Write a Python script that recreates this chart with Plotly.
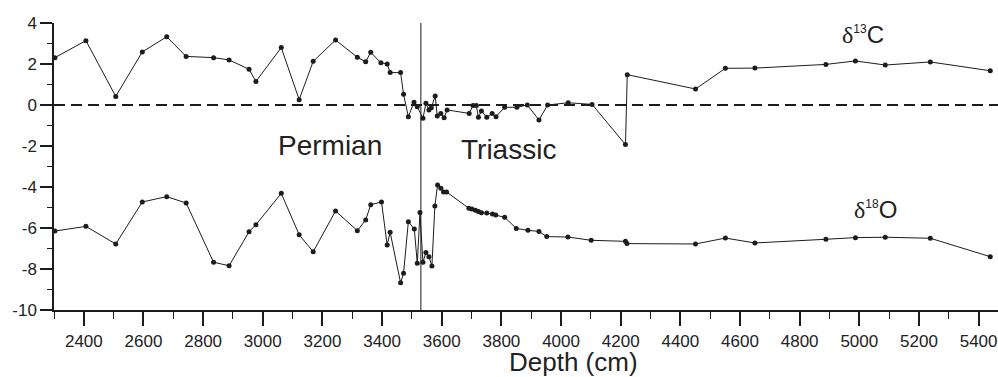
import plotly.graph_objects as go

# Depth (cm) and isotope values
depth_c = [2303, 2407, 2507, 2596, 2678, 2743, 2835, 2887, 2954, 2977, 3062, 3122, 3169, 3244,
           3317, 3345, 3362, 3396, 3417, 3427, 3462, 3472, 3488, 3507, 3518, 3537, 3547, 3557,
           3565, 3578, 3585, 3597, 3608, 3618, 3692, 3705, 3716, 3723, 3733, 3751, 3769, 3782,
           3811, 3852, 3887, 3926, 3955, 4024, 4104, 4216, 4222, 4451, 4551, 4650, 4888, 4987,
           5087, 5238, 5439]
d13c = [2.31, 3.14, 0.42, 2.59, 3.33, 2.37, 2.31, 2.2, 1.74, 1.15, 2.8, 0.26, 2.13, 3.17,
        2.33, 2.11, 2.57, 2.06, 2.0, 1.58, 1.58, 0.52, -0.57, 0.13, -0.08, -0.65, 0.08, -0.24,
        -0.13, 0.44, -0.54, -0.41, -0.62, -0.24, -0.41, -0.03, -0.03, -0.6, -0.29, -0.6, -0.41, -0.57,
        -0.11, -0.11, 0.0, -0.73, 0.0, 0.11, 0.03, -1.93, 1.48, 0.78, 1.79, 1.8, 1.98, 2.15,
        1.95, 2.1, 1.67]

depth_o = [2303, 2407, 2507, 2596, 2678, 2743, 2835, 2887, 2954, 2977, 3062, 3122, 3169, 3244,
           3317, 3345, 3362, 3398, 3417, 3427, 3462, 3472, 3488, 3508, 3518, 3527, 3537, 3547,
           3557, 3567, 3577, 3586, 3597, 3606, 3616, 3691, 3701, 3713, 3723, 3733, 3751, 3770,
           3781, 3811, 3850, 3889, 3926, 3952, 4023, 4101, 4216, 4221, 4451, 4551, 4650, 4888,
           4987, 5087, 5238, 5439]
d18o = [-6.15, -5.92, -6.78, -4.73, -4.47, -4.78, -7.67, -7.84, -6.18, -5.84, -4.31, -6.33, -7.16, -5.17,
        -6.13, -5.61, -4.86, -4.73, -6.83, -6.21, -8.67, -8.21, -5.69, -6.05, -7.72, -5.24, -7.67, -7.19,
        -7.4, -7.85, -4.93, -3.9, -4.06, -4.24, -4.24, -5.04, -5.07, -5.14, -5.2, -5.25, -5.27, -5.32,
        -5.37, -5.48, -6.02, -6.11, -6.17, -6.42, -6.44, -6.6, -6.65, -6.76, -6.78, -6.49, -6.73, -6.55,
        -6.47, -6.45, -6.5, -7.4]

boundary_depth = 3530
x_range = [2300, 5465]
y_range = [-10, 4]
x_ticks = list(range(2400, 5401, 200))
y_ticks = list(range(-10, 5, 2))

ink = "#1c1c1c"
font_family = "Liberation Sans, Arial, sans-serif"

fig = go.Figure()
for xs, ys in ((depth_c, d13c), (depth_o, d18o)):
    fig.add_trace(go.Scatter(
        x=xs, y=ys, mode="lines+markers",
        line=dict(color=ink, width=1),
        marker=dict(color=ink, size=5),
        showlegend=False, cliponaxis=False,
    ))

# zero dashed line
fig.add_shape(type="line", xref="paper", yref="y", x0=0, x1=1, y0=0, y1=0,
              line=dict(color=ink, width=2, dash="11px,6px"), layer="below")
# Permian/Triassic boundary
fig.add_shape(type="line", xref="x", yref="y", x0=boundary_depth, x1=boundary_depth,
              y0=y_range[0], y1=y_range[1], line=dict(color=ink, width=1))

fig.add_annotation(x=3227, y=-1.97, xref="x", yref="y", text="Permian", showarrow=False,
                   font=dict(size=28, color="#222", family=font_family))
fig.add_annotation(x=3825, y=-2.19, xref="x", yref="y", text="Triassic", showarrow=False,
                   font=dict(size=28, color="#222", family=font_family))
fig.add_annotation(x=5012, y=3.45, xref="x", yref="y",
                   text='<span style="font-family:Liberation Serif">δ</span><sup><span style="font-size:12px">13</span></sup>C',
                   showarrow=False, font=dict(size=24, color="#222", family=font_family))
fig.add_annotation(x=5055, y=-5.1, xref="x", yref="y",
                   text='<span style="font-family:Liberation Serif">δ</span><sup><span style="font-size:12px">18</span></sup>O',
                   showarrow=False, font=dict(size=24, color="#222", family=font_family))
fig.add_annotation(x=0.55, y=-0.18, xref="paper", yref="paper", text="Depth (cm)",
                   showarrow=False, yanchor="middle",
                   font=dict(size=26, color="#222", family=font_family))

fig.update_xaxes(
    range=x_range, tickmode="array", tickvals=x_ticks, ticktext=[str(v) for v in x_ticks],
    ticks="outside", ticklen=14, tickwidth=2, tickcolor=ink, ticklabelstandoff=1,
    showline=True, linecolor=ink, linewidth=1.5, showgrid=False, zeroline=False,
    tickfont=dict(size=17, color="#222", family=font_family),
    minor=dict(tickmode="array", tickvals=list(range(2300, 5465, 100)), ticks="outside",
               ticklen=7, tickwidth=1, tickcolor=ink, showgrid=False),
)
fig.update_yaxes(
    range=y_range, tickmode="array", tickvals=y_ticks, ticktext=[str(v) for v in y_ticks],
    ticks="outside", ticklen=12, tickwidth=2, tickcolor=ink,
    showline=True, linecolor=ink, linewidth=1.5, showgrid=False, zeroline=False,
    tickfont=dict(size=17, color="#222", family=font_family),
    minor=dict(tickmode="array", tickvals=list(range(-9, 4, 2)), ticks="outside",
               ticklen=5, tickwidth=1, tickcolor=ink, showgrid=False),
)

fig.update_layout(
    width=998, height=377,
    margin=dict(l=54, r=0, t=23, b=67),
    paper_bgcolor="white", plot_bgcolor="white",
    font=dict(family=font_family, color="#222"),
)

fig.write_html("out.html")
